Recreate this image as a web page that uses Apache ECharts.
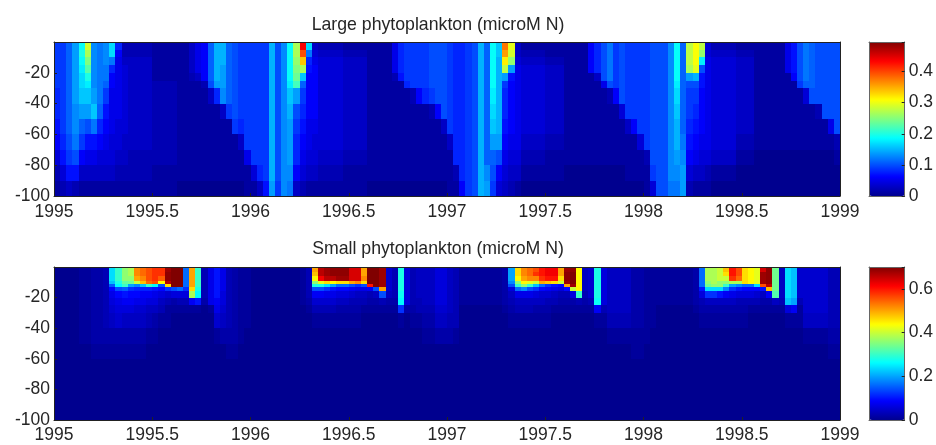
<!DOCTYPE html>
<html><head><meta charset="utf-8">
<script src="https://cdn.jsdelivr.net/npm/echarts@6/dist/echarts.min.js"></script>
<style>html,body{margin:0;background:#fff}#c{width:936px;height:445px}</style></head>
<body><div id="c"></div>
<script>
const titles=['Large phytoplankton (microM N)','Small phytoplankton (microM N)'];
const startYear=1995, stepsPerYear=32;
const xTicks=[1995,1995.5,1996,1996.5,1997,1997.5,1998,1998.5,1999];
const depthEdgesLarge=[0,-5,-10,-15,-20,-25,-30,-40,-50,-60,-70,-80,-90,-100];
const depthEdgesSmall=[0,-3,-6,-9,-11,-13,-16,-20,-25,-30,-40,-50,-60,-100];
// values: hundredths of microM N; one line per time step, one number per depth layer
const large1995=[
[9,9,9,9,9,9,8,8,7,6,4,2,1],[9,9,9,9,9,9,9,9,9,8,7,4,2],[11,11,11,11,11,11,11,11,11,10,9,7,3],[14,14,14,14,14,14,14,13,13,12,10,7,2],
[19,20,19,18,17,17,16,14,11,9,6,3,1],[29,27,25,23,20,18,16,14,10,7,5,3,1],[13,13,13,13,13,13,14,16,12,7,5,3,1],[12,12,12,12,12,12,12,11,8,6,4,3,1],
[13,13,13,12,12,11,9,7,6,5,4,3,1],[17,17,12,8,6,6,5,5,5,4,4,3,1],[8,6,5,5,5,5,5,5,4,4,3,2,1],[2,2,3,4,4,4,4,4,4,3,3,2,1],
[2,2,3,3,3,3,3,3,3,3,2,2,1],[2,2,3,3,3,3,3,3,3,3,2,2,1],[2,2,3,3,3,3,3,3,3,3,2,2,1],[2,2,3,3,3,3,3,3,3,3,2,2,1],
[1,1,1,1,1,2,2,2,2,2,2,1,1],[1,1,1,1,1,2,2,2,2,2,2,1,1],[1,1,1,1,1,2,2,2,2,2,2,1,1],[1,1,1,1,1,2,2,2,2,2,2,1,1],
[1,1,1,1,1,1,1,1,1,1,1,1,0],[1,1,1,1,1,1,1,1,1,1,1,1,0],[3,3,3,3,2,1,1,1,1,1,1,1,0],[5,5,5,5,3,1,1,1,1,1,1,1,0],
[6,6,6,6,6,2,1,1,1,1,1,1,0],[11,11,11,11,11,10,3,1,1,1,1,1,0],[15,15,15,15,15,14,8,1,1,1,1,1,0],[15,15,15,14,14,14,13,3,1,1,1,1,0],
[11,11,11,11,11,11,11,9,1,1,1,1,0],[10,10,10,10,10,10,10,10,9,1,1,1,0],[9,9,9,9,9,9,9,9,8,3,1,1,0],[9,9,9,9,9,9,9,9,9,9,5,1,1]];
const large1996=[
[9,9,9,9,9,9,9,9,9,9,9,4,1],[9,9,9,9,9,9,9,9,9,9,9,8,3],[9,9,9,9,9,9,9,9,9,9,9,9,7],[15,15,15,15,15,15,15,15,15,15,15,15,14],
[10,10,10,10,10,10,10,10,10,10,10,10,9],[13,13,13,13,13,13,13,13,13,13,13,13,13],[19,19,19,19,19,18,16,15,14,14,14,13,12],[27,27,26,25,24,22,14,10,9,8,8,6,3],
[44,40,34,27,16,11,9,8,7,6,5,4,2],[17,12,8,7,6,6,6,6,5,5,4,3,1],[3,4,5,6,6,6,6,6,5,4,4,3,1],[2,3,4,4,4,4,4,4,4,4,3,2,1],
[2,3,4,4,4,4,4,4,4,4,3,2,1],[2,3,4,4,4,4,4,4,4,4,3,2,1],[2,3,4,4,4,4,4,4,4,4,3,2,1],[1,2,3,3,3,3,3,3,3,3,2,1,1],
[1,2,3,3,3,3,3,3,3,3,2,1,1],[1,2,3,3,3,3,3,3,3,3,2,1,1],[1,2,3,3,3,3,3,3,3,3,2,1,1],[1,1,1,1,1,1,1,1,1,1,1,1,0],
[1,1,1,1,1,1,1,1,1,1,1,1,0],[1,1,1,1,1,1,1,1,1,1,1,1,0],[1,1,1,1,1,1,1,1,1,1,1,1,0],[5,5,5,5,2,1,1,1,1,1,1,1,0],
[8,8,8,8,7,1,1,1,1,1,1,1,0],[9,9,9,9,9,8,1,1,1,1,1,1,0],[9,9,9,9,9,9,2,1,1,1,1,1,0],[9,9,9,9,9,9,6,1,1,1,1,1,0],
[9,9,9,9,9,9,8,1,1,1,1,1,0],[10,10,10,10,10,10,9,2,1,1,1,1,0],[10,10,10,10,10,10,10,6,1,1,1,1,0],[10,10,10,10,10,10,10,10,3,1,1,1,0]];
const large1997=[
[9,9,9,9,9,9,9,9,9,3,1,1,1],[8,8,8,8,8,8,8,8,8,8,8,2,1],[8,8,8,8,8,8,8,8,8,8,8,8,6],[9,9,9,9,9,9,9,9,9,9,9,9,9],
[10,10,10,10,10,10,10,10,10,10,10,10,10],[15,15,15,15,15,15,15,15,15,15,15,15,15],[11,11,11,11,11,11,11,11,11,11,11,13,14],[19,19,19,19,19,19,18,17,16,14,11,10,9],
[16,16,15,15,15,15,15,15,15,14,10,6,4],[38,36,32,28,14,9,8,8,7,6,5,4,3],[30,29,26,14,7,6,6,6,6,5,4,3,2],[3,3,4,5,5,5,5,5,5,5,4,3,1],
[1,2,3,4,4,4,4,4,4,3,2,1,0],[1,2,3,4,4,4,4,4,4,3,2,1,0],[1,2,3,4,4,4,4,4,4,3,2,1,0],[1,2,3,4,4,4,4,4,4,3,2,1,0],
[1,1,2,3,3,3,3,3,3,2,1,1,0],[1,1,2,3,3,3,3,3,3,2,1,1,0],[1,1,2,3,3,3,3,3,3,2,1,1,0],[1,1,1,1,1,1,1,1,1,1,1,0,0],
[1,1,1,1,1,1,1,1,1,1,1,0,0],[1,1,1,1,1,1,1,1,1,1,1,0,0],[1,1,1,1,1,1,1,1,1,1,1,0,0],[6,6,6,6,1,1,1,1,1,1,1,0,0],
[8,8,8,8,3,1,1,1,1,1,1,0,0],[10,10,10,10,10,5,1,1,1,1,1,0,0],[12,12,12,12,12,10,2,1,1,1,1,0,0],[9,9,9,9,9,9,6,1,1,1,1,0,0],
[10,10,10,10,10,10,10,4,1,1,1,0,0],[9,9,9,9,9,9,9,9,3,1,1,1,0],[9,9,9,9,9,9,9,9,6,1,1,1,0],[9,9,9,9,9,9,9,9,9,4,1,1,0]];
const large1998=[
[9,9,9,9,9,9,9,9,9,9,2,1,1],[10,10,10,10,10,10,10,10,10,10,10,9,4],[10,10,10,10,10,10,10,10,10,10,10,10,10],[10,10,10,10,10,10,10,10,10,10,10,10,10],
[13,13,13,13,13,13,13,13,13,13,13,13,12],[19,19,19,19,19,18,17,16,15,15,14,13,12],[11,11,11,11,11,11,11,11,11,12,13,14,14],[28,28,28,27,14,10,9,9,8,7,6,4,2],
[31,31,31,30,15,10,9,8,7,6,5,3,1],[28,26,18,10,7,7,6,6,6,5,4,3,1],[4,4,5,5,5,5,5,5,5,5,4,2,1],[2,3,4,4,4,4,4,4,4,4,3,1,0],
[2,3,4,4,4,4,4,4,4,4,3,1,0],[2,3,4,4,4,4,4,4,4,4,3,1,0],[2,3,4,4,4,4,4,4,4,4,3,1,0],[1,2,3,3,3,3,3,3,3,2,1,0,0],
[1,2,3,3,3,3,3,3,3,2,1,0,0],[1,2,3,3,3,3,3,3,3,2,1,0,0],[1,1,1,1,1,1,1,1,1,1,0,0,0],[1,1,1,1,1,1,1,1,1,1,0,0,0],
[1,1,1,1,1,1,1,1,1,1,0,0,0],[1,1,1,1,1,1,1,1,1,1,0,0,0],[1,1,1,1,1,1,1,1,1,1,0,0,0],[5,5,5,5,1,1,1,1,1,1,0,0,0],
[7,7,7,7,6,1,1,1,1,1,0,0,0],[10,10,10,10,10,9,1,1,1,1,0,0,0],[12,12,12,12,12,11,4,1,1,1,0,0,0],[11,11,11,11,11,11,10,1,1,1,0,0,0],
[10,10,10,10,10,10,10,2,1,1,0,0,0],[10,10,10,10,10,10,10,10,1,1,0,0,0],[10,10,10,10,10,10,10,10,5,1,0,0,0],[10,10,10,10,10,10,10,10,10,2,1,0,0]];
const small1995=[
[0,0,0,0,0,0,0,0,0,0,0,0,0],[0,0,0,0,0,0,0,0,0,0,0,0,0],[0,0,0,0,0,0,0,0,0,0,0,0,0],[0,0,0,0,0,0,0,0,0,0,0,0,0],
[1,1,1,1,1,1,1,1,1,1,1,0,0],[1,1,1,1,1,1,1,1,1,1,1,0,0],[2,2,2,2,2,2,2,2,2,2,2,1,0],[2,2,2,2,2,2,2,2,2,2,2,1,0],
[3,3,3,3,3,3,3,3,3,3,2,1,0],[24,24,24,22,15,9,7,6,5,4,2,1,0],[30,30,30,28,26,14,9,7,6,5,2,1,0],[36,36,36,33,30,15,10,8,6,4,2,1,0],
[38,38,36,34,20,12,9,8,6,4,2,1,0],[52,52,50,40,18,11,9,7,5,4,2,1,0],[54,54,52,48,22,11,8,7,5,4,2,1,0],[56,56,56,54,30,11,8,6,4,3,1,0,0],
[58,58,58,56,26,10,7,6,4,2,1,0,0],[58,58,55,44,14,9,6,4,3,1,0,0,0],[68,69,69,66,46,12,5,3,1,1,0,0,0],[70,70,70,70,70,14,6,2,1,0,0,0,0],
[70,70,70,70,70,16,6,3,1,0,0,0,0],[16,16,16,16,16,12,6,3,1,0,0,0,0],[50,50,50,50,50,46,38,8,1,0,0,0,0],[30,30,30,30,30,28,26,10,1,0,0,0,0],
[3,3,3,3,3,3,3,2,0,0,0,0,0],[7,7,7,7,7,7,7,7,1,0,0,0,0],[10,10,10,10,10,10,10,8,7,5,1,0,0],[7,7,7,7,7,7,6,6,5,4,2,0,0],
[3,3,3,3,3,3,3,3,3,3,2,1,0],[2,2,2,2,2,2,2,2,2,2,2,1,0],[1,1,1,1,1,1,1,1,1,1,1,0,0],[1,1,1,1,1,1,1,1,1,1,0,0,0]];
const small1996=[
[0,0,0,0,0,0,0,0,0,0,0,0,0],[0,0,0,0,0,0,0,0,0,0,0,0,0],[0,0,0,0,0,0,0,0,0,0,0,0,0],[0,0,0,0,0,0,0,0,0,0,0,0,0],
[0,0,0,0,0,0,0,0,0,0,0,0,0],[0,0,0,0,0,0,0,0,0,0,0,0,0],[0,0,0,0,0,0,0,0,0,0,0,0,0],[0,0,0,0,0,0,0,0,0,0,0,0,0],
[1,1,1,1,1,1,1,1,0,0,0,0,0],[3,3,3,3,3,3,3,2,1,0,0,0,0],[50,48,44,36,28,14,8,5,3,1,0,0,0],[66,66,62,42,28,14,8,5,3,1,0,0,0],
[68,68,66,46,24,12,7,5,3,1,0,0,0],[69,69,66,44,20,10,7,5,3,1,0,0,0],[69,69,68,46,16,9,6,4,2,1,0,0,0],[69,69,68,46,16,9,6,4,2,1,0,0,0],
[64,64,64,50,14,8,5,3,2,1,0,0,0],[64,64,64,52,12,7,4,3,2,1,0,0,0],[50,50,52,46,14,7,4,3,1,0,0,0,0],[70,70,70,70,60,8,3,2,1,0,0,0,0],
[70,70,70,70,70,14,4,2,1,0,0,0,0],[68,68,68,68,68,50,14,3,1,0,0,0,0],[5,5,5,5,5,5,4,2,1,0,0,0,0],[3,3,3,3,3,3,3,2,1,0,0,0,0],
[28,28,28,28,28,28,27,26,12,1,0,0,0],[6,6,6,6,6,6,6,6,2,0,0,0,0],[3,3,3,3,3,3,3,3,2,1,0,0,0],[4,4,4,4,4,4,4,3,3,1,0,0,0],
[4,4,4,4,4,4,4,4,3,2,1,0,0],[4,4,4,4,4,4,4,4,3,2,1,0,0],[6,6,6,6,6,6,6,6,5,4,2,0,0],[6,6,6,6,6,6,6,6,5,4,2,0,0]];
const small1997=[
[4,4,4,4,4,4,4,4,4,3,2,0,0],[3,3,3,3,3,3,3,3,3,3,1,0,0],[1,1,1,1,1,1,1,1,0,0,0,0,0],[1,1,1,1,1,1,1,1,0,0,0,0,0],
[1,1,1,1,1,1,1,1,0,0,0,0,0],[1,1,1,1,1,1,1,1,0,0,0,0,0],[1,1,1,1,1,1,1,1,0,0,0,0,0],[1,1,1,1,1,1,1,1,0,0,0,0,0],
[1,1,1,1,1,1,1,1,0,0,0,0,0],[2,2,2,2,2,2,2,2,1,0,0,0,0],[20,20,20,18,14,6,4,3,2,1,0,0,0],[46,46,44,36,30,16,7,4,3,1,0,0,0],
[52,52,50,44,36,18,7,4,3,1,0,0,0],[54,54,52,42,30,14,7,4,3,1,0,0,0],[56,58,52,40,22,12,6,4,2,1,0,0,0],[60,60,58,50,16,9,5,4,2,1,0,0,0],
[62,62,60,48,12,8,5,3,2,1,0,0,0],[62,62,60,46,10,7,4,3,1,0,0,0,0],[50,50,46,40,9,6,3,2,1,0,0,0,0],[68,69,69,68,50,9,3,2,1,0,0,0,0],
[69,70,70,70,68,40,6,2,1,0,0,0,0],[44,44,44,44,44,44,30,3,1,0,0,0,0],[4,4,4,4,4,4,3,2,1,0,0,0,0],[5,5,5,5,5,5,5,3,1,0,0,0,0],
[28,28,28,28,28,28,28,27,8,1,0,0,0],[6,6,6,6,6,6,6,6,3,1,0,0,0],[4,4,4,4,4,4,4,4,4,3,1,0,0],[4,4,4,4,4,4,4,4,4,3,1,0,0],
[4,4,4,4,4,4,4,4,4,3,1,0,0],[4,4,4,4,4,4,4,4,4,3,1,0,0],[2,2,2,2,2,2,2,2,2,2,1,1,0],[2,2,2,2,2,2,2,2,2,2,1,1,0]];
const small1998=[
[1,1,1,1,1,1,1,1,1,1,1,0,0],[1,1,1,1,1,1,1,1,1,1,0,0,0],[1,1,1,1,1,1,1,1,0,0,0,0,0],[1,1,1,1,1,1,1,1,0,0,0,0,0],
[1,1,1,1,1,1,1,1,0,0,0,0,0],[1,1,1,1,1,1,1,1,0,0,0,0,0],[1,1,1,1,1,1,1,1,0,0,0,0,0],[1,1,1,1,1,1,1,1,0,0,0,0,0],
[2,2,2,2,2,2,2,2,1,0,0,0,0],[16,16,16,16,16,10,6,3,2,1,0,0,0],[38,38,38,36,34,24,12,4,2,1,0,0,0],[38,38,38,38,36,24,12,4,2,1,0,0,0],
[40,40,40,36,36,24,10,4,2,1,0,0,0],[48,46,40,36,30,18,8,4,2,1,0,0,0],[60,60,58,38,20,12,7,4,2,1,0,0,0],[56,56,54,38,18,10,6,3,2,1,0,0,0],
[46,46,46,46,16,9,6,3,2,1,0,0,0],[44,44,44,44,16,9,6,3,1,0,0,0,0],[42,42,42,42,24,9,5,3,1,0,0,0,0],[64,68,68,68,56,10,4,2,1,0,0,0,0],
[69,69,69,69,66,48,8,2,1,0,0,0,0],[34,34,34,34,34,34,32,4,1,0,0,0,0],[4,4,4,4,4,4,4,3,1,0,0,0,0],[24,24,24,24,24,24,24,22,6,1,0,0,0],
[22,22,22,22,22,22,22,20,8,1,0,0,0],[5,5,5,5,5,5,5,3,1,1,0,0,0],[5,5,5,5,5,5,5,5,5,4,1,0,0],[5,5,5,5,5,5,5,5,5,4,1,0,0],
[5,5,5,5,5,5,5,5,5,4,1,0,0],[5,5,5,5,5,5,5,5,5,4,1,0,0],[3,3,3,3,3,3,3,3,3,3,2,1,0],[3,3,3,3,3,3,3,3,3,3,2,1,0]];

const jet=['#00008f','#0000ff','#0080ff','#00ffff','#80ff80','#ffff00','#ff8000','#ff0000','#800000'];
const textColor='#262626', font='Liberation Sans';

function cells(steps,edges){
  const out=[];
  steps.forEach((col,i)=>col.forEach((v,j)=>{
    out.push([startYear+i/stepsPerYear,edges[j],v/100,startYear+(i+1)/stepsPerYear,edges[j+1]]);
  }));
  return out;
}
function renderCell(params,api){
  const a=api.coord([api.value(0),api.value(1)]), b=api.coord([api.value(3),api.value(4)]);
  const x=Math.round(a[0]), y=Math.round(a[1]);
  return {type:'rect',shape:{x:x,y:y,width:Math.round(b[0])-x,height:Math.round(b[1])-y},
    style:{fill:api.visual('color')}};
}
const panels=[
 {top:42,h:154,steps:[...large1995,...large1996,...large1997,...large1998],edges:depthEdgesLarge,vmax:0.5,barMax:0.495,barStep:0.1,title:titles[0],titleTop:11},
 {top:267,h:153,steps:[...small1995,...small1996,...small1997,...small1998],edges:depthEdgesSmall,vmax:0.7,barMax:0.7,barStep:0.2,title:titles[1],titleTop:235}
];
const opt={animation:false,backgroundColor:'#fff',title:[],grid:[],xAxis:[],yAxis:[],series:[],visualMap:[]};
const lbl={color:textColor,fontFamily:font,fontSize:17.5};
panels.forEach((p,k)=>{
  const g=opt.grid.length;
  opt.title.push({text:p.title,left:433,top:p.titleTop,textAlign:'center',textStyle:{color:textColor,fontFamily:font,fontSize:17.7,fontWeight:'normal'}});
  opt.grid.push({left:54,top:p.top,width:786,height:p.h});
  const line={show:true,onZero:false,lineStyle:{color:'#222',width:1}};
  const tick={show:true,inside:true,length:3,lineStyle:{color:'#222'}};
  opt.xAxis.push({gridIndex:g,type:'value',min:1995,max:1999,interval:0.5,z:5,axisLine:line,axisTick:tick,splitLine:{show:false},
    axisLabel:{...lbl,margin:k===0?7:6,formatter:v=>xTicks.includes(v)?String(v):''}});
  opt.xAxis.push({gridIndex:g,type:'value',position:'top',min:1995,max:1999,interval:0.5,z:5,axisLine:line,axisTick:{show:false},axisLabel:{show:false},splitLine:{show:false}});
  opt.yAxis.push({gridIndex:g,type:'value',min:-100,max:0,interval:20,z:5,axisLine:line,axisTick:tick,splitLine:{show:false},
    axisLabel:{...lbl,margin:4,formatter:v=>v===0?'':String(v)}});
  opt.yAxis.push({gridIndex:g,type:'value',position:'right',min:-100,max:0,interval:20,z:5,axisLine:line,axisTick:{show:false},axisLabel:{show:false},splitLine:{show:false}});
  const xi=opt.xAxis.length-2, yi=opt.yAxis.length-2;
  opt.series.push({type:'custom',xAxisIndex:xi,yAxisIndex:yi,renderItem:renderCell,encode:{x:[0,3],y:[1,4]},data:cells(p.steps,p.edges),silent:true,clip:true});
  opt.visualMap.push({type:'continuous',seriesIndex:opt.series.length-1,dimension:2,min:0,max:p.vmax,calculable:false,hoverLink:false,realtime:false,
    left:869,top:p.top,itemWidth:36,itemHeight:p.h,text:null,showLabel:false,padding:0,inRange:{color:jet},textStyle:{color:'transparent'}});
  const cg=opt.grid.length;
  opt.grid.push({left:869,top:p.top,width:36,height:p.h});
  const gray={show:true,onZero:false,lineStyle:{color:'#666',width:1}};
  opt.xAxis.push({gridIndex:cg,type:'value',min:0,max:1,axisLine:gray,axisTick:{show:false},axisLabel:{show:false},splitLine:{show:false},z:5});
  opt.xAxis.push({gridIndex:cg,type:'value',position:'top',min:0,max:1,axisLine:gray,axisTick:{show:false},axisLabel:{show:false},splitLine:{show:false},z:5});
  opt.yAxis.push({gridIndex:cg,type:'value',position:'right',min:0,max:p.barMax,interval:p.barStep,axisLine:gray,
    axisTick:{show:true,inside:true,length:3,lineStyle:{color:'#222'}},splitLine:{show:false},z:5,
    axisLabel:{...lbl,margin:4,formatter:v=>v>=p.barMax-1e-9?'':String(+v.toFixed(1))}});
  opt.yAxis.push({gridIndex:cg,type:'value',position:'left',min:0,max:1,axisLine:gray,axisTick:{show:false},axisLabel:{show:false},splitLine:{show:false},z:5});
});
const chart=echarts.init(document.getElementById('c'),null,{renderer:'canvas'});
chart.setOption(opt);
</script></body></html>
